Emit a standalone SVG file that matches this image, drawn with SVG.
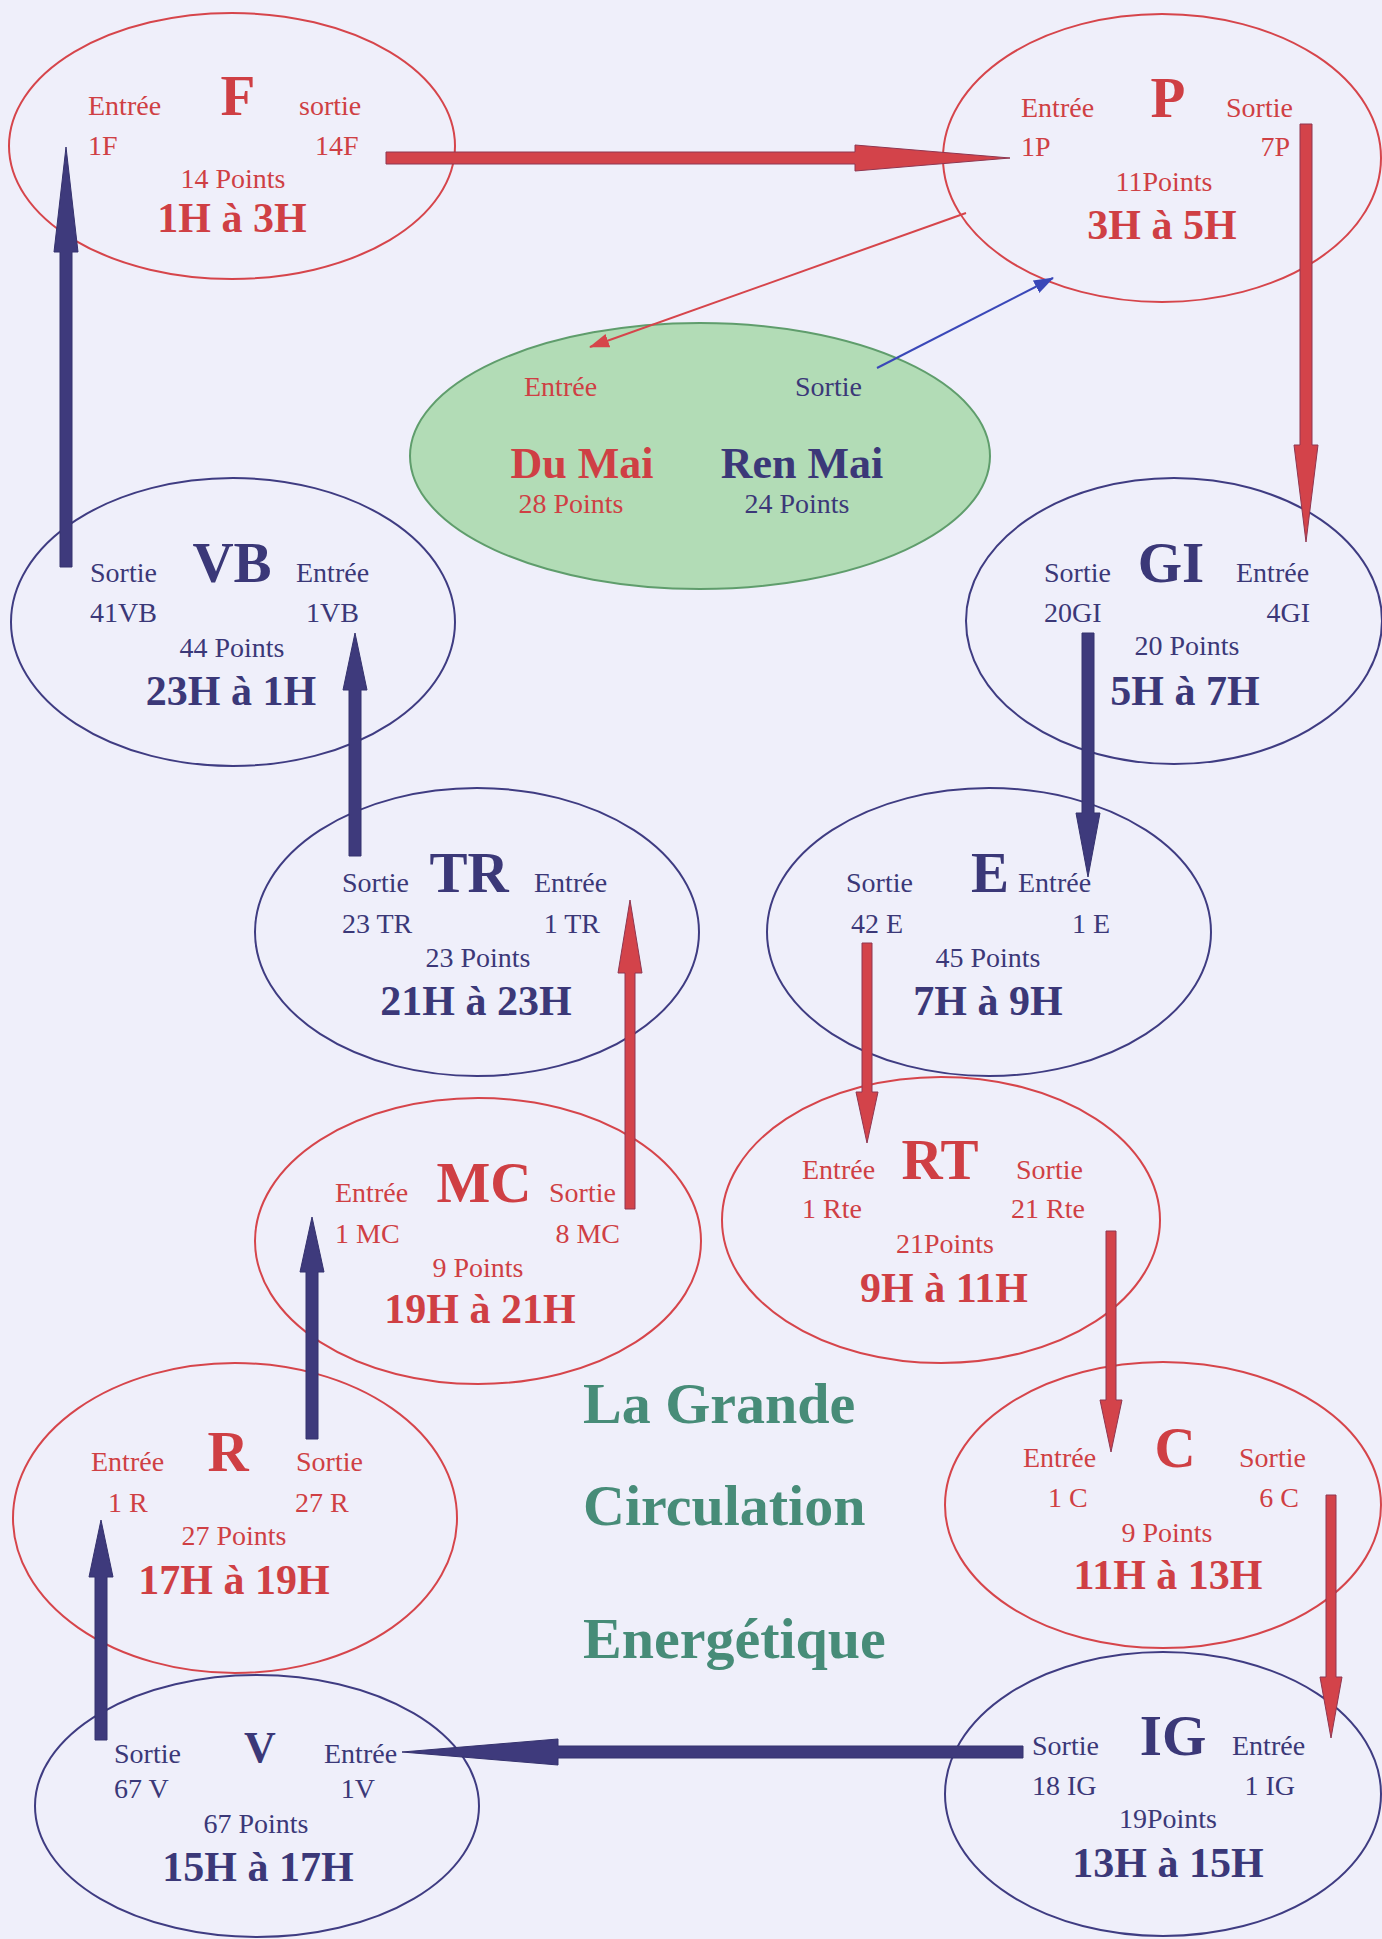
<svg xmlns="http://www.w3.org/2000/svg" width="1382" height="1939" viewBox="0 0 1382 1939">
<defs>
<style>
text{font-family:"Liberation Serif","Times New Roman",serif}
.s{font-size:28px}
.b{font-size:42px;font-weight:bold;text-anchor:middle}
.L{font-size:57px;font-weight:bold;text-anchor:middle}
.m{text-anchor:middle}
.e{text-anchor:end}
.r{fill:#cf3f44}
.u{fill:#3b3878}
.er{fill:none;stroke:#d6454b;stroke-width:2}
.eu{fill:none;stroke:#3f3c82;stroke-width:2}
.ar{fill:#d3434a;stroke:#8f3650;stroke-width:1}
.au{fill:#3e3a7c;stroke:#35326e;stroke-width:1}
.t{font-size:58px;font-weight:bold;fill:#478c78}
</style>
<marker id="mr" markerUnits="userSpaceOnUse" markerWidth="20" markerHeight="16" refX="19" refY="8" orient="auto"><path d="M0,1 L20,8 L0,15 z" fill="#d6454b"/></marker>
<marker id="mu" markerUnits="userSpaceOnUse" markerWidth="20" markerHeight="16" refX="19" refY="8" orient="auto"><path d="M0,1 L20,8 L0,15 z" fill="#3a48b8"/></marker>
</defs>
<rect width="1382" height="1939" fill="#efeffa"/>

<g id="node-F">
<ellipse class="er" cx="232" cy="146" rx="223" ry="133"/>
<text class="s r" x="88" y="115">Entrée</text>
<text class="L r" x="238" y="115">F</text>
<text class="s r" x="299" y="115">sortie</text>
<text class="s r" x="88" y="155">1F</text>
<text class="s r" x="315" y="155">14F</text>
<text class="s r m" x="233" y="188">14 Points</text>
<text class="b r" x="232" y="232">1H à 3H</text>
</g>

<g id="node-P">
<ellipse class="er" cx="1162" cy="158" rx="219" ry="144"/>
<text class="s r" x="1021" y="117">Entrée</text>
<text class="L r" x="1168" y="117">P</text>
<text class="s r" x="1226" y="117">Sortie</text>
<text class="s r" x="1021" y="156">1P</text>
<text class="s r e" x="1290" y="156">7P</text>
<text class="s r m" x="1164" y="191">11Points</text>
<text class="b r" x="1162" y="239">3H à 5H</text>
</g>

<g id="node-DuMai-RenMai">
<ellipse cx="700" cy="456" rx="290" ry="133" fill="#b2dcb6" stroke="#5f9d6c" stroke-width="2"/>
<text class="s r" x="524" y="396">Entrée</text>
<text class="s u" x="795" y="396">Sortie</text>
<text class="r" x="582" y="478" style="font-size:44px;font-weight:bold;text-anchor:middle">Du Mai</text>
<text class="u" x="802" y="478" style="font-size:44px;font-weight:bold;text-anchor:middle">Ren Mai</text>
<text class="s r m" x="571" y="513">28 Points</text>
<text class="s u m" x="797" y="513">24 Points</text>
</g>

<g id="node-VB">
<ellipse class="eu" cx="233" cy="622" rx="222" ry="144"/>
<text class="s u" x="90" y="582">Sortie</text>
<text class="L u" x="232" y="582">VB</text>
<text class="s u" x="296" y="582">Entrée</text>
<text class="s u" x="90" y="622">41VB</text>
<text class="s u e" x="359" y="622">1VB</text>
<text class="s u m" x="232" y="657">44 Points</text>
<text class="b u" x="231" y="705">23H à 1H</text>
</g>

<g id="node-GI">
<ellipse class="eu" cx="1174" cy="621" rx="208" ry="143"/>
<text class="s u" x="1044" y="582">Sortie</text>
<text class="L u" x="1171" y="582">GI</text>
<text class="s u" x="1236" y="582">Entrée</text>
<text class="s u" x="1044" y="622">20GI</text>
<text class="s u e" x="1310" y="622">4GI</text>
<text class="s u m" x="1187" y="655">20 Points</text>
<text class="b u" x="1185" y="705">5H à 7H</text>
</g>

<g id="node-TR">
<ellipse class="eu" cx="477" cy="932" rx="222" ry="144"/>
<text class="s u" x="342" y="892">Sortie</text>
<text class="L u" x="469" y="892">TR</text>
<text class="s u" x="534" y="892">Entrée</text>
<text class="s u" x="342" y="933">23 TR</text>
<text class="s u e" x="600" y="933">1 TR</text>
<text class="s u m" x="478" y="967">23 Points</text>
<text class="b u" x="476" y="1015">21H à 23H</text>
</g>

<g id="node-E">
<ellipse class="eu" cx="989" cy="932" rx="222" ry="144"/>
<text class="s u" x="846" y="892">Sortie</text>
<text class="L u" x="990" y="892">E</text>
<text class="s u" x="1018" y="892">Entrée</text>
<text class="s u" x="851" y="933">42 E</text>
<text class="s u e" x="1110" y="933">1 E</text>
<text class="s u m" x="988" y="967">45 Points</text>
<text class="b u" x="988" y="1015">7H à 9H</text>
</g>

<g id="node-MC">
<ellipse class="er" cx="478" cy="1241" rx="223" ry="143"/>
<text class="s r" x="335" y="1202">Entrée</text>
<text class="L r" x="484" y="1202">MC</text>
<text class="s r" x="549" y="1202">Sortie</text>
<text class="s r" x="335" y="1243">1 MC</text>
<text class="s r e" x="620" y="1243">8 MC</text>
<text class="s r m" x="478" y="1277">9 Points</text>
<text class="b r" x="480" y="1323">19H à 21H</text>
</g>

<g id="node-RT">
<ellipse class="er" cx="941" cy="1220" rx="219" ry="143"/>
<text class="s r" x="802" y="1179">Entrée</text>
<text class="L r" x="940" y="1179">RT</text>
<text class="s r" x="1016" y="1179">Sortie</text>
<text class="s r" x="802" y="1218">1 Rte</text>
<text class="s r e" x="1085" y="1218">21 Rte</text>
<text class="s r m" x="945" y="1253">21Points</text>
<text class="b r" x="944" y="1302">9H à 11H</text>
</g>

<g id="node-R">
<ellipse class="er" cx="235" cy="1518" rx="222" ry="155"/>
<text class="s r" x="91" y="1471">Entrée</text>
<text class="L r" x="228" y="1471">R</text>
<text class="s r" x="296" y="1471">Sortie</text>
<text class="s r" x="108" y="1512">1 R</text>
<text class="s r" x="295" y="1512">27 R</text>
<text class="s r m" x="234" y="1545">27 Points</text>
<text class="b r" x="234" y="1594">17H à 19H</text>
</g>

<g id="node-C">
<ellipse class="er" cx="1163" cy="1505" rx="218" ry="143"/>
<text class="s r" x="1023" y="1467">Entrée</text>
<text class="L r" x="1175" y="1467">C</text>
<text class="s r" x="1239" y="1467">Sortie</text>
<text class="s r" x="1048" y="1507">1 C</text>
<text class="s r e" x="1299" y="1507">6 C</text>
<text class="s r m" x="1167" y="1542">9 Points</text>
<text class="b r" x="1168" y="1589">11H à 13H</text>
</g>

<g id="node-V">
<ellipse class="eu" cx="257" cy="1806" rx="222" ry="131"/>
<text class="s u" x="114" y="1763">Sortie</text>
<text class="u" x="260" y="1762" style="font-size:44px;font-weight:bold;text-anchor:middle">V</text>
<text class="s u" x="324" y="1763">Entrée</text>
<text class="s u" x="114" y="1798">67 V</text>
<text class="s u e" x="375" y="1798">1V</text>
<text class="s u m" x="256" y="1833">67 Points</text>
<text class="b u" x="258" y="1881">15H à 17H</text>
</g>

<g id="node-IG">
<ellipse class="eu" cx="1163" cy="1794" rx="218" ry="142"/>
<text class="s u" x="1032" y="1755">Sortie</text>
<text class="L u" x="1173" y="1755">IG</text>
<text class="s u" x="1232" y="1755">Entrée</text>
<text class="s u" x="1032" y="1795">18 IG</text>
<text class="s u e" x="1295" y="1795">1 IG</text>
<text class="s u m" x="1168" y="1828">19Points</text>
<text class="b u" x="1168" y="1877">13H à 15H</text>
</g>

<g id="title">
<text class="t" x="583" y="1423">La Grande</text>
<text class="t" x="583" y="1525">Circulation</text>
<text class="t" x="583" y="1658">Energétique</text>
</g>

<g id="connectors">
<polygon class="ar" points="386,152 855,152 855,145 1010,158 855,171 855,164 386,164"/>
<polygon class="ar" points="1300,124 1300,445 1294,445 1306,542 1318,445 1312,445 1312,124"/>
<polygon class="au" points="1082,633 1082,813 1076,813 1088,877 1100,813 1094,813 1094,633"/>
<polygon class="ar" points="862,943 862,1092 856,1092 867,1143 878,1092 872,1092 872,943"/>
<polygon class="ar" points="1106,1231 1106,1400 1100,1400 1111,1452 1122,1400 1116,1400 1116,1231"/>
<polygon class="ar" points="1326,1495 1326,1677 1320,1677 1331,1738 1342,1677 1336,1677 1336,1495"/>
<polygon class="au" points="1023,1746 558,1746 558,1739 402,1752 558,1765 558,1758 1023,1758"/>
<polygon class="au" points="95,1740 95,1577 89,1577 101,1520 113,1577 107,1577 107,1740"/>
<polygon class="au" points="306,1439 306,1272 300,1272 312,1217 324,1272 318,1272 318,1439"/>
<polygon class="ar" points="625,1209 625,973 618,973 630,900 642,973 635,973 635,1209"/>
<polygon class="au" points="349,856 349,690 343,690 355,633 367,690 361,690 361,856"/>
<polygon class="au" points="60,567 60,252 54,252 66,147 78,252 72,252 72,567"/>
<line x1="966" y1="213" x2="590" y2="347" stroke="#d6454b" stroke-width="2" marker-end="url(#mr)"/>
<line x1="877" y1="368" x2="1053" y2="278" stroke="#3a48b8" stroke-width="2" marker-end="url(#mu)"/>
</g>
</svg>
